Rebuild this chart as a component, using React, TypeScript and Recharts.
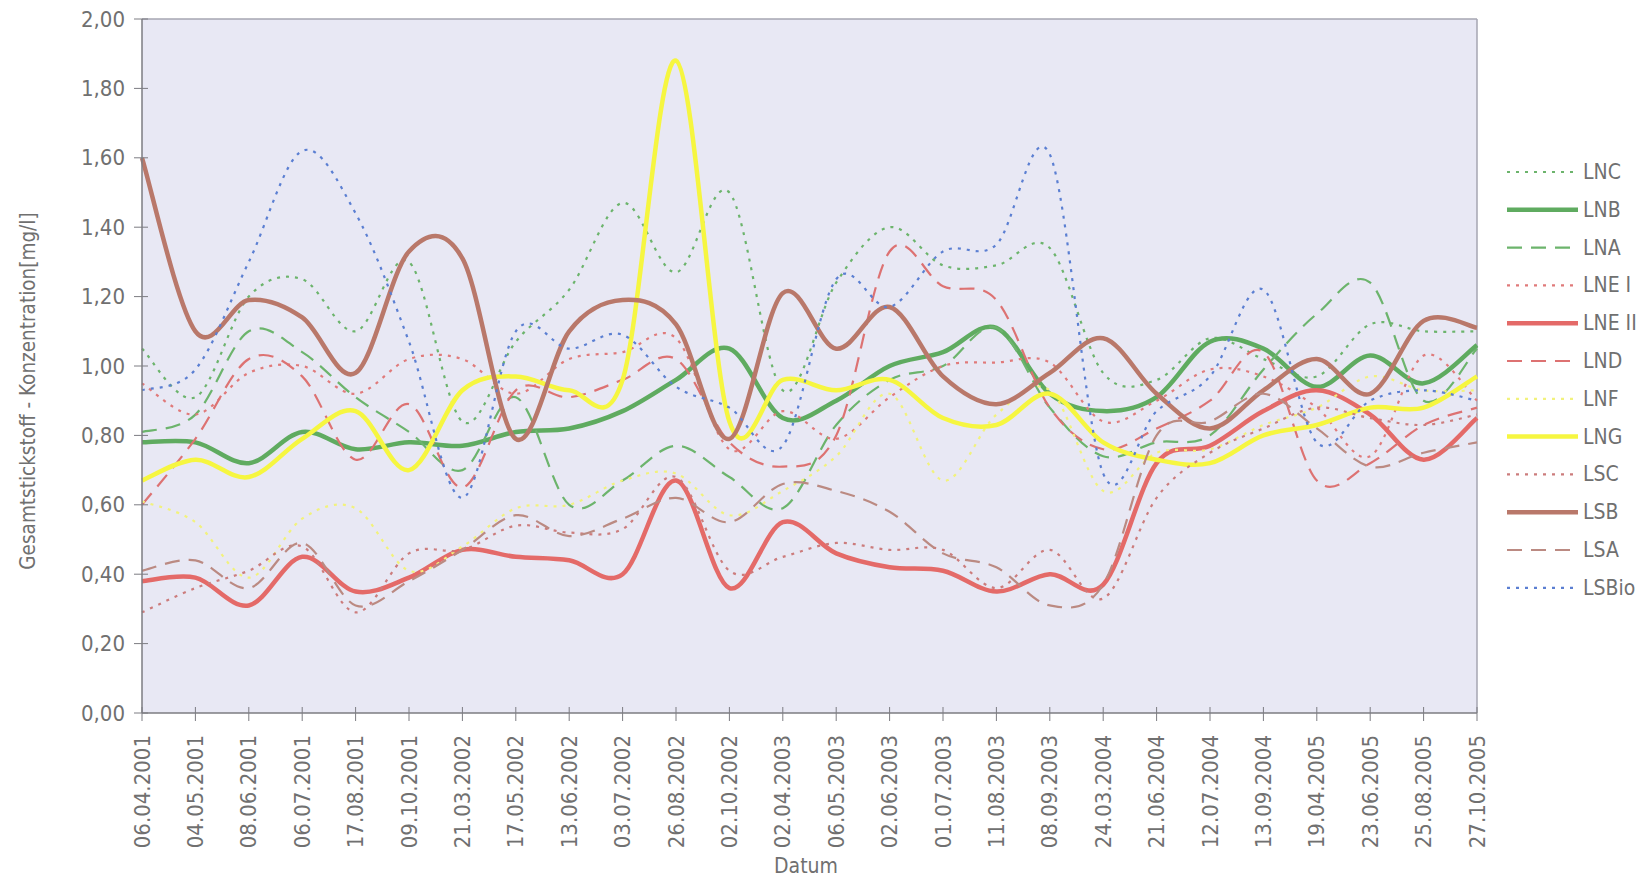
import React from 'react';
import { LineChart, Line, XAxis, YAxis, CartesianGrid, ReferenceLine, Legend } from 'recharts';

const dates = ['06.04.2001','04.05.2001','08.06.2001','06.07.2001','17.08.2001','09.10.2001','21.03.2002','17.05.2002','13.06.2002','03.07.2002','26.08.2002','02.10.2002','02.04.2003','06.05.2003','02.06.2003','01.07.2003','11.08.2003','08.09.2003','24.03.2004','21.06.2004','12.07.2004','13.09.2004','19.04.2005','23.06.2005','25.08.2005','27.10.2005'];

const LNC = [1.05,0.91,1.20,1.25,1.10,1.30,0.84,1.07,1.22,1.47,1.27,1.50,0.93,1.24,1.40,1.29,1.29,1.34,0.98,0.96,1.08,1.02,0.97,1.12,1.10,1.10];
const LNB = [0.78,0.78,0.72,0.81,0.76,0.78,0.77,0.81,0.82,0.87,0.96,1.05,0.85,0.90,1.00,1.04,1.11,0.92,0.87,0.91,1.07,1.05,0.94,1.03,0.95,1.06];
const LNA = [0.81,0.86,1.10,1.04,0.91,0.81,0.70,0.91,0.60,0.67,0.77,0.68,0.59,0.83,0.96,1.00,1.11,0.88,0.74,0.78,0.80,0.99,1.15,1.24,0.90,1.05];
const LNE_I = [0.95,0.86,0.98,1.00,0.92,1.02,1.02,0.92,1.02,1.04,1.08,0.76,0.87,0.79,0.91,1.00,1.01,1.01,0.84,0.90,0.99,0.97,0.88,0.74,1.03,0.90];
const LNE_II = [0.38,0.39,0.31,0.45,0.35,0.39,0.47,0.45,0.44,0.40,0.67,0.36,0.55,0.46,0.42,0.41,0.35,0.40,0.37,0.72,0.77,0.87,0.93,0.86,0.73,0.85];
const LND = [0.60,0.79,1.02,0.97,0.73,0.89,0.65,0.93,0.91,0.96,1.02,0.78,0.71,0.80,1.33,1.23,1.19,0.88,0.76,0.82,0.90,1.04,0.67,0.72,0.83,0.88];
const LNF = [0.61,0.55,0.39,0.56,0.59,0.41,0.48,0.59,0.60,0.67,0.69,0.57,0.64,0.74,0.92,0.67,0.86,0.93,0.64,0.75,0.76,0.83,0.88,0.97,0.93,0.93];
const LNG = [0.67,0.73,0.68,0.79,0.87,0.70,0.93,0.97,0.93,0.96,1.88,0.84,0.96,0.93,0.96,0.85,0.83,0.92,0.78,0.73,0.72,0.80,0.83,0.88,0.88,0.97];
const LSC = [0.29,0.36,0.41,0.48,0.29,0.46,0.47,0.54,0.52,0.53,0.68,0.41,0.45,0.49,0.47,0.47,0.36,0.47,0.33,0.62,0.75,0.82,0.88,0.85,0.83,0.86];
const LSB = [1.60,1.10,1.19,1.14,0.98,1.33,1.31,0.79,1.10,1.19,1.12,0.79,1.21,1.05,1.17,0.97,0.89,0.98,1.08,0.92,0.82,0.93,1.02,0.92,1.13,1.11];
const LSA = [0.41,0.44,0.36,0.49,0.31,0.38,0.47,0.57,0.51,0.56,0.62,0.55,0.66,0.64,0.58,0.46,0.42,0.31,0.37,0.80,0.84,0.92,0.82,0.71,0.75,0.78];
const LSBio = [0.93,0.99,1.30,1.62,1.44,1.07,0.62,1.10,1.05,1.09,0.94,0.88,0.77,1.25,1.17,1.33,1.35,1.61,0.69,0.87,0.97,1.22,0.78,0.90,0.93,0.90];

const yTicks = [0, 0.2, 0.4, 0.6, 0.8, 1.0, 1.2, 1.4, 1.6, 1.8, 2.0];

const DOT = '3 6';
const DASH = '15 9';

const series = [
  { key: 'LNC', name: 'LNC', values: LNC, color: '#6cb46c', width: 2.2, dash: DOT },
  { key: 'LNB', name: 'LNB', values: LNB, color: '#5fab60', width: 4.5, dash: undefined },
  { key: 'LNA', name: 'LNA', values: LNA, color: '#6cb46c', width: 2.2, dash: DASH },
  { key: 'LNE_I', name: 'LNE I', values: LNE_I, color: '#e07a7a', width: 2.2, dash: DOT },
  { key: 'LNE_II', name: 'LNE II', values: LNE_II, color: '#e46a68', width: 4.5, dash: undefined },
  { key: 'LND', name: 'LND', values: LND, color: '#dd7272', width: 2.2, dash: DASH },
  { key: 'LNF', name: 'LNF', values: LNF, color: '#f2f27c', width: 2.2, dash: DOT },
  { key: 'LNG', name: 'LNG', values: LNG, color: '#f6f640', width: 4.5, dash: undefined },
  { key: 'LSC', name: 'LSC', values: LSC, color: '#cc7c7c', width: 2.2, dash: DOT },
  { key: 'LSB', name: 'LSB', values: LSB, color: '#b9786a', width: 4.5, dash: undefined },
  { key: 'LSA', name: 'LSA', values: LSA, color: '#bb8a82', width: 2.2, dash: DASH },
  { key: 'LSBio', name: 'LSBio', values: LSBio, color: '#5b7fd2', width: 2.2, dash: DOT },
];

const data = dates.map((d, i) => {
  const row: any = { date: d };
  series.forEach((s) => { row[s.key] = s.values[i]; });
  return row;
});

// Catmull-Rom style smoothing (like Excel's smoothed lines)
const smoothCurve: any = (context: any) => {
  let pts: number[][] = [];
  return {
    areaStart() {},
    areaEnd() {},
    lineStart() { pts = []; },
    point(x: number, y: number) { pts.push([+x, +y]); },
    lineEnd() {
      const n = pts.length;
      if (!n) return;
      context.moveTo(pts[0][0], pts[0][1]);
      for (let i = 0; i < n - 1; i++) {
        const p0 = pts[Math.max(0, i - 1)];
        const p1 = pts[i];
        const p2 = pts[i + 1];
        const p3 = pts[Math.min(n - 1, i + 2)];
        context.bezierCurveTo(
          p1[0] + (p2[0] - p0[0]) / 6, p1[1] + (p2[1] - p0[1]) / 6,
          p2[0] - (p3[0] - p1[0]) / 6, p2[1] - (p3[1] - p1[1]) / 6,
          p2[0], p2[1]
        );
      }
    },
  };
};

const FONT = "'Liberation Sans Narrow', 'DejaVu Sans Condensed', 'Open Sans', sans-serif";
const TEXT = '#707070';
const AXIS = '#7c7c82';

const YTick = (p: any) => {
  const { x, y, payload } = p;
  return (
    <g>
      <line x1={x - 8} x2={x + 6} y1={y} y2={y} stroke={AXIS} strokeWidth={1} />
      <text x={x - 17} y={y} textAnchor="end" dominantBaseline="central" fill={TEXT} fontSize={22} fontFamily={FONT}>
        {Number(payload.value).toFixed(2).replace('.', ',')}
      </text>
    </g>
  );
};

const XTick = (p: any) => {
  const { x, y, payload } = p;
  return (
    <g>
      <line x1={x} x2={x} y1={y - 6} y2={y + 8} stroke={AXIS} strokeWidth={1} />
      <g transform={`translate(${x},${y + 22}) rotate(-90)`}>
        <text x={0} y={0} textAnchor="end" dominantBaseline="central" fill={TEXT} fontSize={22} fontFamily={FONT}>
          {payload.value}
        </text>
      </g>
    </g>
  );
};

const renderLegend = () => (
  <svg width={146} height={450} style={{ display: 'block' }}>
    {series.map((s, i) => {
      const cy = 20 + i * 37.8;
      return (
        <g key={s.key}>
          <line x1={7} x2={78} y1={cy} y2={cy} stroke={s.color} strokeWidth={s.width} strokeDasharray={s.dash} />
          <text x={83} y={cy} dominantBaseline="central" fill={TEXT} fontSize={21} fontFamily={FONT}>{s.name}</text>
        </g>
      );
    })}
  </svg>
);

export default function App() {
  return (
    <div style={{ position: 'absolute', left: 0, top: 0, width: 1646, height: 879, background: '#ffffff' }}>
      <LineChart width={1646} height={879} data={data} margin={{ top: 19, right: 169, left: 0, bottom: 0 }}>
        <CartesianGrid horizontal={false} vertical={false} fill="#e8e8f4" stroke="none" />
        <XAxis
          dataKey="date"
          interval={0}
          height={166}
          tickSize={0}
          tickMargin={0}
          tick={<XTick />}
          axisLine={{ stroke: AXIS, strokeWidth: 1.5 }}
          tickLine={false}
          label={() => (
            <text x={806} y={866} textAnchor="middle" dominantBaseline="central" fill={TEXT} fontSize={21} fontFamily={FONT}>Datum</text>
          )}
        />
        <YAxis
          domain={[0, 2]}
          ticks={yTicks}
          width={142}
          tickSize={0}
          tickMargin={0}
          tick={<YTick />}
          axisLine={{ stroke: AXIS, strokeWidth: 1.5 }}
          tickLine={false}
          interval={0}
          label={() => (
            <text x={28} y={391} transform="rotate(-90 28 391)" textAnchor="middle" dominantBaseline="central" fill={TEXT} fontSize={20.5} fontFamily={FONT}>
              Gesamtstickstoff - Konzentration[mg/l]
            </text>
          )}
        />
        <ReferenceLine y={2} stroke="#a6a6b2" strokeWidth={1.5} ifOverflow="visible" />
        <ReferenceLine x={dates[dates.length - 1]} stroke="#a6a6b2" strokeWidth={1.5} ifOverflow="visible" />
        {series.map((s) => (
          <Line
            key={s.key}
            dataKey={s.key}
            name={s.name}
            type={smoothCurve}
            stroke={s.color}
            strokeWidth={s.width}
            strokeDasharray={s.dash}
            dot={false}
            activeDot={false}
            isAnimationActive={false}
          />
        ))}
        <Legend
          layout="vertical"
          align="center"
          verticalAlign="middle"
          content={renderLegend}
          wrapperStyle={{ left: 1500, top: 152, width: 146, height: 450 }}
        />
      </LineChart>
    </div>
  );
}
